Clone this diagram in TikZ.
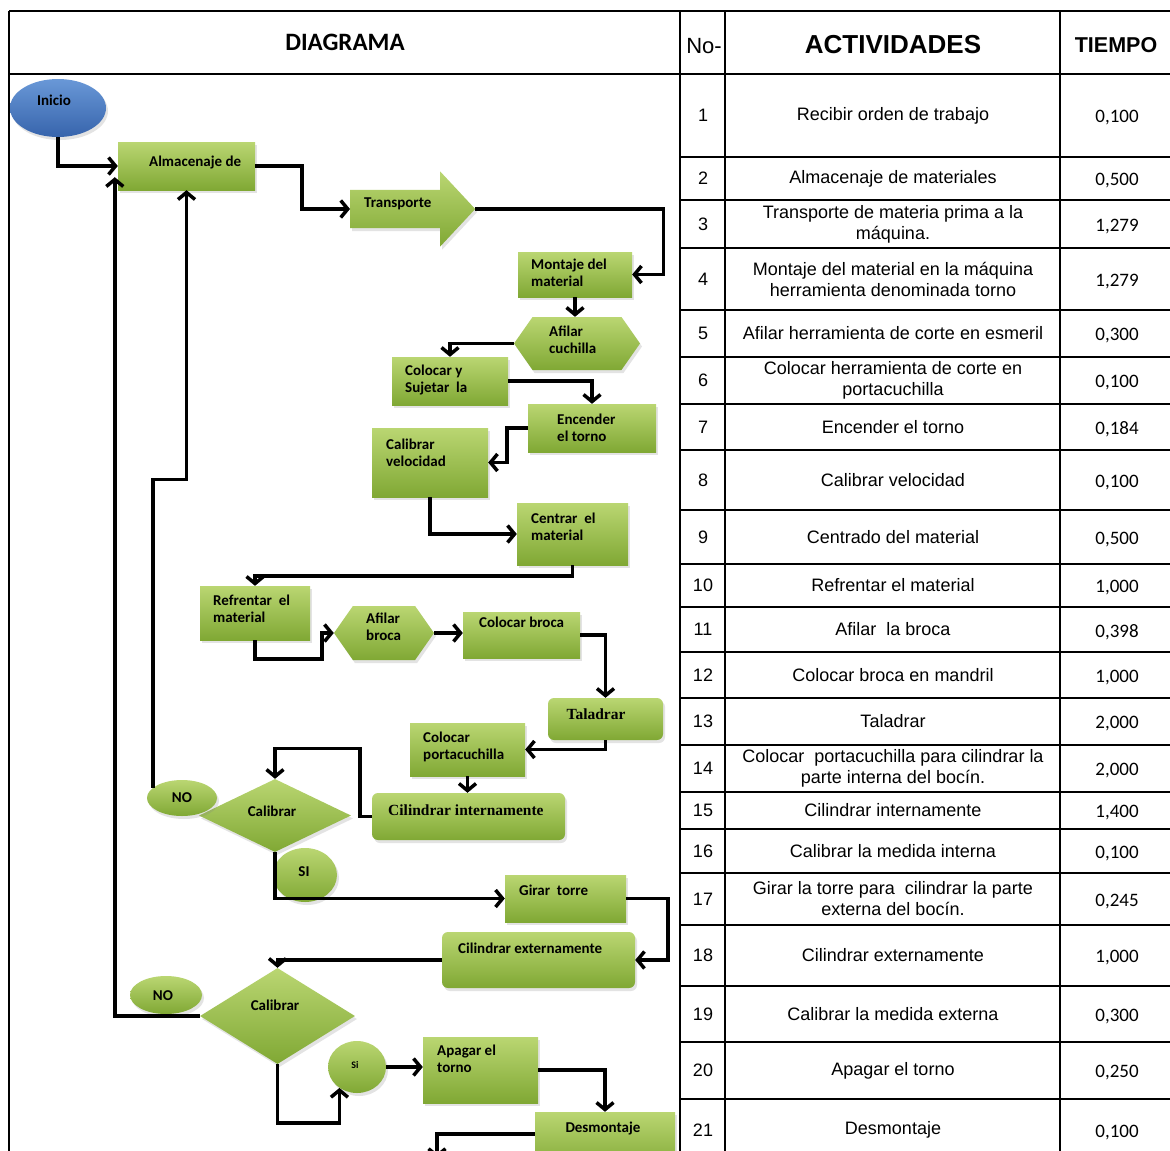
\documentclass[tikz,border=0pt]{standalone}
\usepackage{fontspec}
\setmainfont{Liberation Sans}
\newfontfamily\calfont{Carlito}
\newfontfamily\serfont{Liberation Serif}
\usetikzlibrary{arrows.meta,shapes.geometric,shapes.arrows,shapes.symbols,shadows}
\definecolor{gtop}{RGB}{186,214,114}
\definecolor{gbot}{RGB}{128,168,52}
\definecolor{btop}{RGB}{105,152,215}
\definecolor{bbot}{RGB}{55,100,172}

\begin{document}
\begin{tikzpicture}[x=1pt,y=-1pt,
    grn/.style={top color=gtop, bottom color=gbot, draw=none, inner sep=0pt,
      drop shadow={shadow xshift=2pt, shadow yshift=-3pt, opacity=.22}},
    box/.style={grn, rectangle},
    rbox/.style={grn, rectangle, rounded corners=6pt},
    hexa/.style={grn, signal, signal to=east and west, signal pointer angle=110},
    dec/.style={grn, diamond},
    oval/.style={grn, ellipse},
    lbl/.style={font=\calfont\bfseries\fontsize{15}{17}\selectfont, align=left, inner sep=0pt, anchor=west},
    clbl/.style={font=\calfont\bfseries\fontsize{15}{17}\selectfont, inner sep=0pt},
    slbl/.style={font=\serfont\bfseries\fontsize{15.5}{17}\selectfont, inner sep=0pt},
    arr/.style={-{Straight Barb[length=7pt,width=17pt]}, line width=3.5pt},
    tline/.style={line width=2.5pt},
    cell/.style={font=\fontsize{18}{21}\selectfont, align=center, inner sep=0pt},
    tcell/.style={font=\calfont\fontsize{19}{21}\selectfont, inner sep=0pt}]
  \useasboundingbox (0,0) rectangle (1170,1151);
  \fill[white] (0,0) rectangle (1170,1151);
  \clip (0,0) rectangle (1170,1151);

  % frame and table
  \draw[line width=2pt] (9,11) -- (1170,11);
  \draw[line width=2pt] (9,11) -- (9,1151);
  \draw[tline] (9,74) -- (1170,74);
  \foreach \x in {680,725,1060}
    \draw[tline] (\x,11) -- (\x,1151);
  \foreach \y in {157,200,248,310,357,404,450,510,564,607,652,698,745,792,829,873,925,986,1042,1099}
    \draw[tline] (680,\y) -- (1170,\y);

  \node[font=\calfont\bfseries\fontsize{25}{28}\selectfont] (hdiag) at (345,42) {DIAGRAMA};
  \node[font=\fontsize{22}{24}\selectfont] (hno) at (704,46) {No-};
  \node[font=\bfseries\fontsize{26}{28}\selectfont] (hact) at (893,45) {ACTIVIDADES};
  \node[font=\bfseries\fontsize{21.5}{24}\selectfont] (htie) at (1116,45) {TIEMPO};

  \foreach \n/\yc/\act/\tm in {
      1/115.5/{Recibir orden de trabajo}/{0,100},
      2/178.5/{Almacenaje de materiales}/{0,500},
      3/224/{Transporte de materia prima a la\\máquina.}/{1,279},
      4/279/{Montaje del material en la máquina\\herramienta denominada torno}/{1,279},
      5/333.5/{Afilar herramienta de corte en esmeril}/{0,300},
      6/380.5/{Colocar herramienta de corte en\\portacuchilla}/{0,100},
      7/427/{Encender el torno}/{0,184},
      8/480/{Calibrar velocidad}/{0,100},
      9/537/{Centrado del material}/{0,500},
      10/585.5/{Refrentar el material}/{1,000},
      11/629.5/{Afilar\ \ la broca}/{0,398},
      12/675/{Colocar broca en mandril}/{1,000},
      13/721.5/{Taladrar}/{2,000},
      14/768.5/{Colocar\ \ portacuchilla para cilindrar la\\parte interna del bocín.}/{2,000},
      15/810.5/{Cilindrar internamente}/{1,400},
      16/851/{Calibrar la medida interna}/{0,100},
      17/899/{Girar la torre para\ \ cilindrar la parte\\externa del bocín.}/{0,245},
      18/955.5/{Cilindrar externamente}/{1,000},
      19/1014/{Calibrar la medida externa}/{0,300},
      20/1070.5/{Apagar el torno}/{0,250},
      21/1130/{Desmontaje}/{0,100}} {
    \node[cell] (no\n) at (703,\yc) {\n};
    \node[cell] (act\n) at (893,\yc) {\act};
    \node[tcell] (tm\n) at (1117,\yc+2.5) {\tm};
  }

  % flow chart shapes
  \node[oval, top color=btop, bottom color=bbot, minimum width=96, minimum height=58] (ini) at (58,108) {};
  \node[box, minimum width=137, minimum height=48] (alm) at (186.5,166) {};
  \node[grn, single arrow, inner xsep=0pt, inner ysep=19pt, single arrow head extend=18.5pt,
    single arrow tip angle=94, minimum height=125, anchor=tail] (trans) at (350,209) {};
  \node[box, minimum width=114, minimum height=45] (mont) at (575,274.5) {};
  \node[hexa, minimum width=126, minimum height=53] (afc) at (577,343.5) {};
  \node[box, minimum width=116, minimum height=48] (coly) at (450,381) {};
  \node[box, minimum width=128, minimum height=48] (enc) at (592,428) {};
  \node[box, minimum width=116, minimum height=69] (calv) at (430,462.5) {};
  \node[box, minimum width=111, minimum height=62] (cent) at (572.5,534) {};
  \node[box, minimum width=110, minimum height=54] (refr) at (255,613) {};
  \node[hexa, minimum width=100, minimum height=54] (afb) at (384,633) {};
  \node[box, minimum width=117, minimum height=46] (colb) at (521.5,635) {};
  \node[rbox, minimum width=115, minimum height=42] (tal) at (605.5,719) {};
  \node[box, minimum width=115, minimum height=53] (colp) at (467.5,749.5) {};
  \node[rbox, minimum width=193, minimum height=47] (cili) at (468.5,816.5) {};
  \node[dec, minimum width=152, minimum height=73] (cal1) at (275,815.5) {};
  \node[oval, minimum width=70, minimum height=36] (no1) at (182,798) {};
  \node[oval, minimum width=64, minimum height=54] (si1) at (305,875) {};
  \node[box, minimum width=121, minimum height=47] (gir) at (565.5,898.5) {};
  \node[rbox, minimum width=193, minimum height=56] (cile) at (538.5,960) {};
  \node[dec, minimum width=155, minimum height=96] (cal2) at (277.5,1016) {};
  \node[oval, minimum width=72, minimum height=38] (no2) at (166,995) {};
  \node[oval, minimum width=58, minimum height=52] (si2) at (357,1067) {};
  \node[box, minimum width=115, minimum height=66] (apa) at (480.5,1070) {};
  \node[box, minimum width=140, minimum height=58] (desm) at (605,1141) {};
  \coordinate (fin) at (437,1158);

  % labels
  \node[clbl] (t-ini) at (54,100) {Inicio};
  \node[lbl] (t-alm) at (149,163) {Almacenaje de};
  \node[lbl] (t-trans) at (364,204) {Transporte};
  \node[lbl] (t-mont) at (531,272.5) {Montaje del\\material};
  \node[lbl] (t-afc) at (549,340) {Afilar\\cuchilla};
  \node[lbl] (t-coly) at (405,380) {Colocar y\\Sujetar\ \ la};
  \node[lbl] (t-enc) at (557,427.5) {Encender\\el torno};
  \node[lbl] (t-calv) at (386,453) {Calibrar\\velocidad};
  \node[lbl] (t-cent) at (531,526.5) {Centrar\ \ el\\material};
  \node[lbl] (t-refr) at (213,609) {Refrentar\ \ el\\material};
  \node[lbl] (t-afb) at (366,627) {Afilar\\broca};
  \node[lbl] (t-colb) at (479,622) {Colocar broca};
  \node[slbl] (t-tal) at (596,714) {Taladrar};
  \node[lbl] (t-colp) at (423,746.5) {Colocar\\portacuchilla};
  \node[slbl, anchor=west] (t-cili) at (388,810) {Cilindrar internamente};
  \node[clbl] (t-no1) at (182,798) {NO};
  \node[clbl] (t-cal1) at (272,811) {Calibrar};
  \node[clbl] (t-si1) at (304,872) {SI};
  \node[lbl] (t-gir) at (519,890) {Girar\ \ torre};
  \node[lbl] (t-cile) at (458,948) {Cilindrar externamente};
  \node[clbl] (t-no2) at (163,996) {NO};
  \node[clbl] (t-cal2) at (275,1005) {Calibrar};
  \node[clbl, font=\calfont\bfseries\fontsize{10}{12}\selectfont] (t-si2) at (355,1065) {Si};
  \node[lbl] (t-apa) at (437,1059) {Apagar el\\torno};
  \node[clbl] (t-desm) at (603,1128) {Desmontaje};

  % connectors
  \draw[arr] (ini.south) |- (alm.west);
  \draw[arr] (alm.east) -- ++(47,0) |- (trans.tail);
  \draw[arr] (trans.tip) -- ++(188,0) |- (mont.east);
  \draw[arr] (mont.south) -- (mont.south |- afc.north);
  \draw[arr] (afc.west) -| (coly.north);
  \draw[arr] (coly.east) -| (enc.north);
  \draw[arr] (enc.west) -- ++(-21,0) |- (calv.east);
  \draw[arr] (calv.south) |- (cent.west);
  \draw[arr] (cent.south) -- ++(0,11) -| (refr.north);
  \draw[arr] (refr.south) -- ++(0,19) -- ++(67,0) |- (afb.west);
  \draw[arr] (afb.east) -- (afb.east -| colb.west);
  \draw[arr] (colb.east) -| (tal.north);
  \draw[arr] (tal.south) |- (colp.east);
  \draw[arr] (colp.south) -- (colp.south |- cili.north);
  \draw[arr] (cili.west) -- ++(-12,0) -- ++(0,-68) -| (cal1.north);
  \draw[arr] (no1.160) -- ++(0,-308) -| (alm.south);
  \draw[arr] (cal1.south) |- (gir.west);
  \draw[arr] (gir.east) -- ++(42,0) |- (cile.east);
  \draw[arr] (cile.west) -| (cal2.north);
  \draw[arr] (cal2.west) -| ([xshift=-3pt,yshift=13pt]alm.south west);
  \draw[arr] (cal2.south) -- ++(0,59) -| (si2.-130);
  \draw[arr] (si2.east) -- (si2.east -| apa.west);
  \draw[arr] (apa.east) -| (desm.north);
  \draw[arr] ([yshift=7pt]desm.west) -| (fin);
\end{tikzpicture}
\end{document}
